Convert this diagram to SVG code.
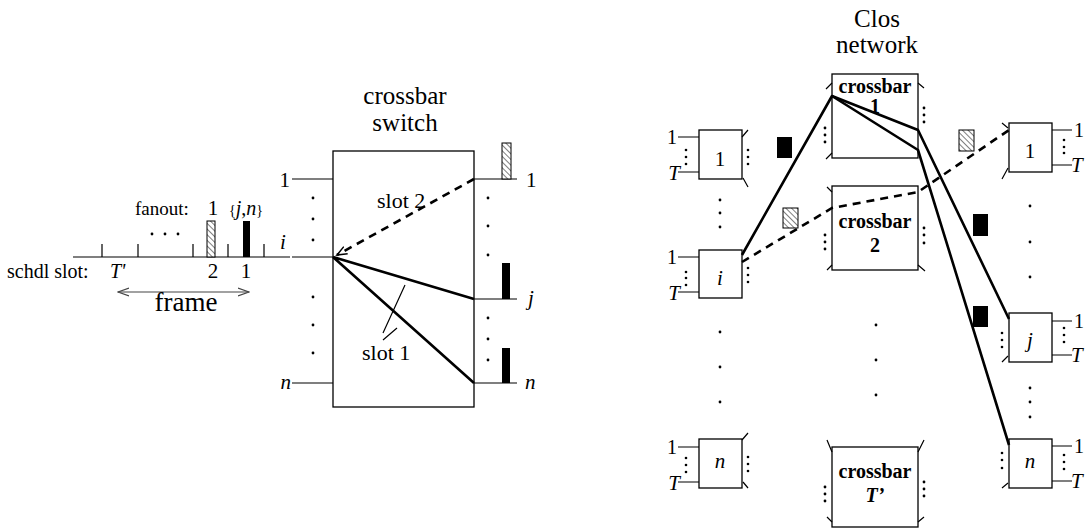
<svg xmlns="http://www.w3.org/2000/svg" width="1088" height="531" viewBox="0 0 1088 531">
<style>
text{font-family:"Liberation Serif","Times New Roman",serif;fill:#000}
.t{stroke:#000;stroke-width:1.2;fill:none}
.box{stroke:#000;stroke-width:1.3;fill:#fff}
.thick{stroke:#000;stroke-width:2.6;fill:none;stroke-linejoin:round}
.dash{stroke:#000;stroke-width:2.6;fill:none;stroke-dasharray:8,6}
.blk{fill:#000}
.hat{fill:url(#hatch);stroke:#000;stroke-width:1}
.d{fill:#000}
.it{font-style:italic}
.b{font-weight:bold}
.lbl{font-size:21px}
.hd{font-size:25px;text-anchor:middle}
.xb{font-size:20px;font-weight:bold;text-anchor:middle}
.mid{text-anchor:middle}
.end{text-anchor:end}
</style>
<defs>
<pattern id="hatch" patternUnits="userSpaceOnUse" width="4" height="4" patternTransform="rotate(-45)">
<rect width="4" height="4" fill="#fff"/>
<line x1="0" y1="0" x2="0" y2="4" stroke="#000" stroke-width="1"/>
</pattern>
<marker id="open" markerWidth="12" markerHeight="10" refX="11" refY="5" orient="auto-start-reverse" markerUnits="userSpaceOnUse">
<path d="M0,1 L11,5 L0,9" fill="none" stroke="#444" stroke-width="1.2"/>
</marker>
<marker id="dhead" markerWidth="12" markerHeight="10" refX="10" refY="5" orient="auto" markerUnits="userSpaceOnUse">
<path d="M0,1 L10,5 L0,9" fill="none" stroke="#000" stroke-width="1.5"/>
</marker>
</defs>

<g id="timeline">
<line class="t" x1="73" y1="257" x2="290" y2="257"/>
<path class="t" d="M102,244V257M138,244V257M193,244V257M228,244V257M264,244V257"/>
<rect class="hat" x="207" y="221" width="8" height="36"/>
<rect class="blk" x="243" y="221" width="7" height="36"/>
<circle class="d" cx="152" cy="234" r="1.4"/><circle class="d" cx="165" cy="234" r="1.4"/><circle class="d" cx="178" cy="234" r="1.4"/>
<text x="135" y="215" font-size="19">fanout:</text>
<text x="213" y="215" class="mid" font-size="21">1</text>
<text x="229" y="215"><tspan font-size="14">{</tspan><tspan font-size="20" class="it">j</tspan><tspan font-size="20">,</tspan><tspan font-size="20" class="it">n</tspan><tspan font-size="14">}</tspan></text>
<text x="283" y="249" class="mid it lbl">i</text>
<text x="7" y="278" font-size="20">schdl slot:</text>
<text x="110" y="278" font-size="20" class="it">T'</text>
<text x="213" y="278" class="mid lbl">2</text>
<text x="246" y="278" class="mid lbl">1</text>
<line x1="118" y1="292" x2="249" y2="292" stroke="#444" stroke-width="1.2" marker-start="url(#open)" marker-end="url(#open)"/>
<text x="186" y="311" font-size="27" class="mid">frame</text>
</g>

<g id="switch">
<rect class="box" x="333" y="151" width="141" height="256"/>
<text x="405" y="104" class="hd">crossbar</text>
<text x="405" y="131" class="hd">switch</text>
<path class="t" d="M292,179H333M292,257H333M292,383H333M474,179H517M474,299H517M474,383H517"/>
<text x="290" y="187" class="end lbl">1</text>
<text x="291" y="389" class="end it lbl">n</text>
<text x="526" y="187" class="lbl">1</text>
<text x="528" y="305" class="it lbl">j</text>
<text x="525" y="389" class="it lbl">n</text>
<circle class="d" cx="313" cy="198" r="1.4"/><circle class="d" cx="313" cy="219" r="1.4"/><circle class="d" cx="313" cy="240" r="1.4"/>
<circle class="d" cx="313" cy="297" r="1.4"/><circle class="d" cx="313" cy="325" r="1.4"/><circle class="d" cx="313" cy="353" r="1.4"/>
<circle class="d" cx="488" cy="198" r="1.4"/><circle class="d" cx="488" cy="226" r="1.4"/><circle class="d" cx="488" cy="255" r="1.4"/>
<circle class="d" cx="488" cy="318" r="1.4"/><circle class="d" cx="488" cy="339" r="1.4"/><circle class="d" cx="488" cy="360" r="1.4"/>
<rect class="hat" x="502" y="143" width="9" height="36"/>
<rect class="blk" x="502" y="263" width="8" height="36"/>
<rect class="blk" x="502" y="348" width="8" height="35"/>
<text x="377" y="208" font-size="22">slot 2</text>
<text x="362" y="360" font-size="22">slot 1</text>
<path class="t" d="M405,285L383,333M397,328L383,340"/>
</g>

<g id="switch-paths">
<path class="thick" d="M333,257L474,299M333,257L474,383"/>
<path class="dash" d="M474,179L337,255" marker-end="url(#dhead)"/>
</g>

<g id="clos-title">
<text x="877" y="27" class="hd">Clos</text>
<text x="877" y="53" class="hd">network</text>
</g>

<g id="xbar1">
<rect class="box" x="832" y="74" width="86" height="84"/>
<text x="875" y="93" class="xb">crossbar</text>
<text x="875" y="113" class="xb">1</text>
<path class="t" d="M826,89L832,83M826,159L832,153M918,83L924,88"/>
<circle class="d" cx="825" cy="128" r="1.4"/><circle class="d" cx="825" cy="135" r="1.4"/><circle class="d" cx="825" cy="142" r="1.4"/>
<circle class="d" cx="924" cy="108" r="1.4"/><circle class="d" cx="924" cy="115" r="1.4"/><circle class="d" cx="924" cy="122" r="1.4"/>
</g>

<g id="xbar2">
<rect class="box" x="832" y="186" width="86" height="84"/>
<text x="875" y="228" class="xb">crossbar</text>
<text x="875" y="252" class="xb">2</text>
<path class="t" d="M827,187L832,192M827,270L832,265M918,265L925,271"/>
<circle class="d" cx="825" cy="235" r="1.4"/><circle class="d" cx="825" cy="242" r="1.4"/><circle class="d" cx="825" cy="249" r="1.4"/>
<circle class="d" cx="924" cy="228" r="1.4"/><circle class="d" cx="924" cy="235" r="1.4"/><circle class="d" cx="924" cy="243" r="1.4"/>
</g>

<g id="xbarT">
<rect class="box" x="832" y="447" width="86" height="80"/>
<text x="875" y="478" class="xb">crossbar</text>
<text x="875" y="502" class="xb it">T’</text>
<path class="t" d="M827,440L832,452M918,452L924,440M827,517L832,522M918,522L924,517"/>
<circle class="d" cx="825" cy="487" r="1.4"/><circle class="d" cx="825" cy="494" r="1.4"/><circle class="d" cx="825" cy="501" r="1.4"/>
<circle class="d" cx="924" cy="482" r="1.4"/><circle class="d" cx="924" cy="489" r="1.4"/><circle class="d" cx="924" cy="496" r="1.4"/>
</g>

<g id="xbar-dots">
<circle class="d" cx="876" cy="325" r="1.4"/><circle class="d" cx="876" cy="360" r="1.4"/><circle class="d" cx="876" cy="395" r="1.4"/>
</g>

<g id="in1">
<rect class="box" x="699" y="130" width="43" height="49"/>
<text x="720" y="166" class="mid lbl">1</text>
<path class="t" d="M678,137H699M678,172H699M742,137L748,130M743,178L748,187"/>
<text x="677" y="144" class="end" font-size="20">1</text>
<text x="680" y="180" class="end it" font-size="21">T</text>
<circle class="d" cx="686" cy="150" r="1.3"/><circle class="d" cx="686" cy="157" r="1.3"/><circle class="d" cx="686" cy="164" r="1.3"/>
<circle class="d" cx="748" cy="150" r="1.3"/><circle class="d" cx="748" cy="157" r="1.3"/><circle class="d" cx="748" cy="164" r="1.3"/>
</g>

<g id="ini">
<rect class="box" x="699" y="250" width="43" height="48"/>
<text x="720" y="285" class="mid it lbl">i</text>
<path class="t" d="M678,257H699M678,292H699"/>
<text x="677" y="264" class="end" font-size="20">1</text>
<text x="680" y="300" class="end it" font-size="21">T</text>
<circle class="d" cx="686" cy="272" r="1.3"/><circle class="d" cx="686" cy="278" r="1.3"/><circle class="d" cx="686" cy="285" r="1.3"/>
<circle class="d" cx="748" cy="268" r="1.3"/><circle class="d" cx="748" cy="275" r="1.3"/><circle class="d" cx="748" cy="282" r="1.3"/>
</g>

<g id="inn">
<rect class="box" x="699" y="439" width="43" height="49"/>
<text x="720" y="468" class="mid it lbl">n</text>
<path class="t" d="M678,447H699M678,482H699M742,440L748,433M743,482L748,488"/>
<text x="677" y="454" class="end" font-size="20">1</text>
<text x="680" y="490" class="end it" font-size="21">T</text>
<circle class="d" cx="686" cy="458" r="1.3"/><circle class="d" cx="686" cy="465" r="1.3"/><circle class="d" cx="686" cy="472" r="1.3"/>
<circle class="d" cx="748" cy="457" r="1.3"/><circle class="d" cx="748" cy="464" r="1.3"/><circle class="d" cx="748" cy="471" r="1.3"/>
</g>

<g id="in-dots">
<circle class="d" cx="720" cy="200" r="1.4"/><circle class="d" cx="720" cy="213" r="1.4"/><circle class="d" cx="720" cy="227" r="1.4"/>
<circle class="d" cx="720" cy="332" r="1.4"/><circle class="d" cx="720" cy="367" r="1.4"/><circle class="d" cx="720" cy="402" r="1.4"/>
</g>

<g id="out1">
<rect class="box" x="1009" y="123" width="43" height="49"/>
<text x="1030" y="158" class="mid lbl">1</text>
<path class="t" d="M1052,130H1072M1052,165H1072M1002,123L1008,128M1002,179L1008,168"/>
<text x="1074" y="137" font-size="20">1</text>
<text x="1071" y="172" class="it" font-size="21">T</text>
<circle class="d" cx="1064" cy="140" r="1.3"/><circle class="d" cx="1064" cy="147" r="1.3"/><circle class="d" cx="1064" cy="153" r="1.3"/>
</g>

<g id="outj">
<rect class="box" x="1009" y="313" width="43" height="49"/>
<text x="1030" y="347" class="mid it lbl">j</text>
<path class="t" d="M1052,321H1072M1052,355H1072M1002,362L1008,356"/>
<text x="1074" y="328" font-size="20">1</text>
<text x="1071" y="362" class="it" font-size="21">T</text>
<circle class="d" cx="1002" cy="333" r="1.3"/><circle class="d" cx="1002" cy="340" r="1.3"/><circle class="d" cx="1002" cy="347" r="1.3"/>
<circle class="d" cx="1064" cy="328" r="1.3"/><circle class="d" cx="1064" cy="335" r="1.3"/><circle class="d" cx="1064" cy="342" r="1.3"/>
</g>

<g id="outn">
<rect class="box" x="1009" y="439" width="43" height="49"/>
<text x="1030" y="468" class="mid it lbl">n</text>
<path class="t" d="M1052,446H1072M1052,481H1072M1002,488L1008,483"/>
<text x="1074" y="453" font-size="20">1</text>
<text x="1071" y="488" class="it" font-size="21">T</text>
<circle class="d" cx="1002" cy="453" r="1.3"/><circle class="d" cx="1002" cy="460" r="1.3"/><circle class="d" cx="1002" cy="468" r="1.3"/>
<circle class="d" cx="1064" cy="455" r="1.3"/><circle class="d" cx="1064" cy="462" r="1.3"/><circle class="d" cx="1064" cy="469" r="1.3"/>
</g>

<g id="out-dots">
<circle class="d" cx="1030" cy="206" r="1.4"/><circle class="d" cx="1030" cy="242" r="1.4"/><circle class="d" cx="1030" cy="277" r="1.4"/>
<circle class="d" cx="1030" cy="388" r="1.4"/><circle class="d" cx="1030" cy="402" r="1.4"/><circle class="d" cx="1030" cy="417" r="1.4"/>
</g>

<g id="connectors">
<path class="thick" d="M742,255L832,96L918,130L1009,319"/>
<path class="thick" d="M832,96L918,150L1009,445"/>
<path class="dash" d="M742,262L832,208L918,192L1009,130"/>
<rect class="blk" x="777" y="137" width="15" height="21"/>
<rect class="hat" x="783" y="208" width="15" height="20"/>
<rect class="hat" x="959" y="130" width="15" height="21"/>
<rect class="blk" x="973" y="214" width="15" height="22"/>
<rect class="blk" x="973" y="306" width="15" height="21"/>
</g>
</svg>
